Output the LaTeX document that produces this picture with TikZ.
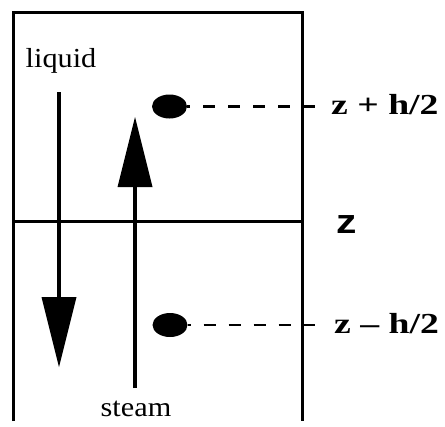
\documentclass[tikz,border=0pt]{standalone}
\usepackage{fontspec}
\setmainfont{Liberation Serif}
\newfontfamily\mysans{Liberation Sans}
\usetikzlibrary{arrows.meta,shapes.geometric}
\begin{document}
\begin{tikzpicture}[x=1bp,y=-1bp,
  wall/.style={line width=3bp},
  flow/.style={line width=3.5bp,-{Triangle[length=70bp,width=35bp,line width=0pt]}},
  dotnode/.style={ellipse,fill=black,inner sep=0pt,minimum width=35bp,minimum height=24bp},
  lead/.style={line width=2.8bp,dash pattern=on 12bp off 13bp,dash phase=9bp},
  plain/.style={inner sep=0pt,font=\fontsize{27.5bp}{30bp}\selectfont},
  boldlab/.style={inner sep=0pt,anchor=base west,font=\fontsize{29bp}{32bp}\selectfont\bfseries},
  sanslab/.style={inner sep=0pt,font=\fontsize{34bp}{38bp}\selectfont\mysans\bfseries}
]
\useasboundingbox (0,0) rectangle (445,426);
% walls
\coordinate (tl) at (13.5,12);
\coordinate (tr) at (302,12);
\coordinate (bl) at (13.5,421);
\coordinate (br) at (302,421);
\coordinate (ml) at (13.5,221);
\coordinate (mr) at (302,221);
\draw[wall] (bl) -- (tl) -- (tr) -- (br);
\draw[wall] (ml) -- (mr);
% texts
\node[plain,anchor=base] (liquid) at (61,67) {\scalebox{1.1}[1]{liquid}};
\node[plain,anchor=base] (steam) at (136,416) {\scalebox{1.1}[1]{steam}};
% flows
\coordinate (lqs) at (59,92);
\coordinate (lqe) at (59,367);
\coordinate (sts) at (135,388);
\coordinate (ste) at (135,117);
\draw[flow] (lqs) -- (lqe);
\draw[flow] (sts) -- (ste);
% dots and leaders
\node[dotnode] (dotup) at (169.5,106.5) {};
\node[dotnode] (dotdn) at (170,325) {};
\coordinate (leadup) at (315,106.5);
\coordinate (leaddn) at (315,325);
\draw[lead] (dotup.east) -- (leadup);
\draw[lead] (dotdn.east) -- (leaddn);
% labels
\node[boldlab] (zup) at (331,114) {\scalebox{1.3}[1]{z + h/2}};
\node[boldlab] (zdn) at (334,333) {\scalebox{1.3}[1]{z – h/2}};
\node[sanslab,anchor=base west] (zmid) at (336,233) {\scalebox{1.2}[1]{z}};
\end{tikzpicture}
\end{document}
